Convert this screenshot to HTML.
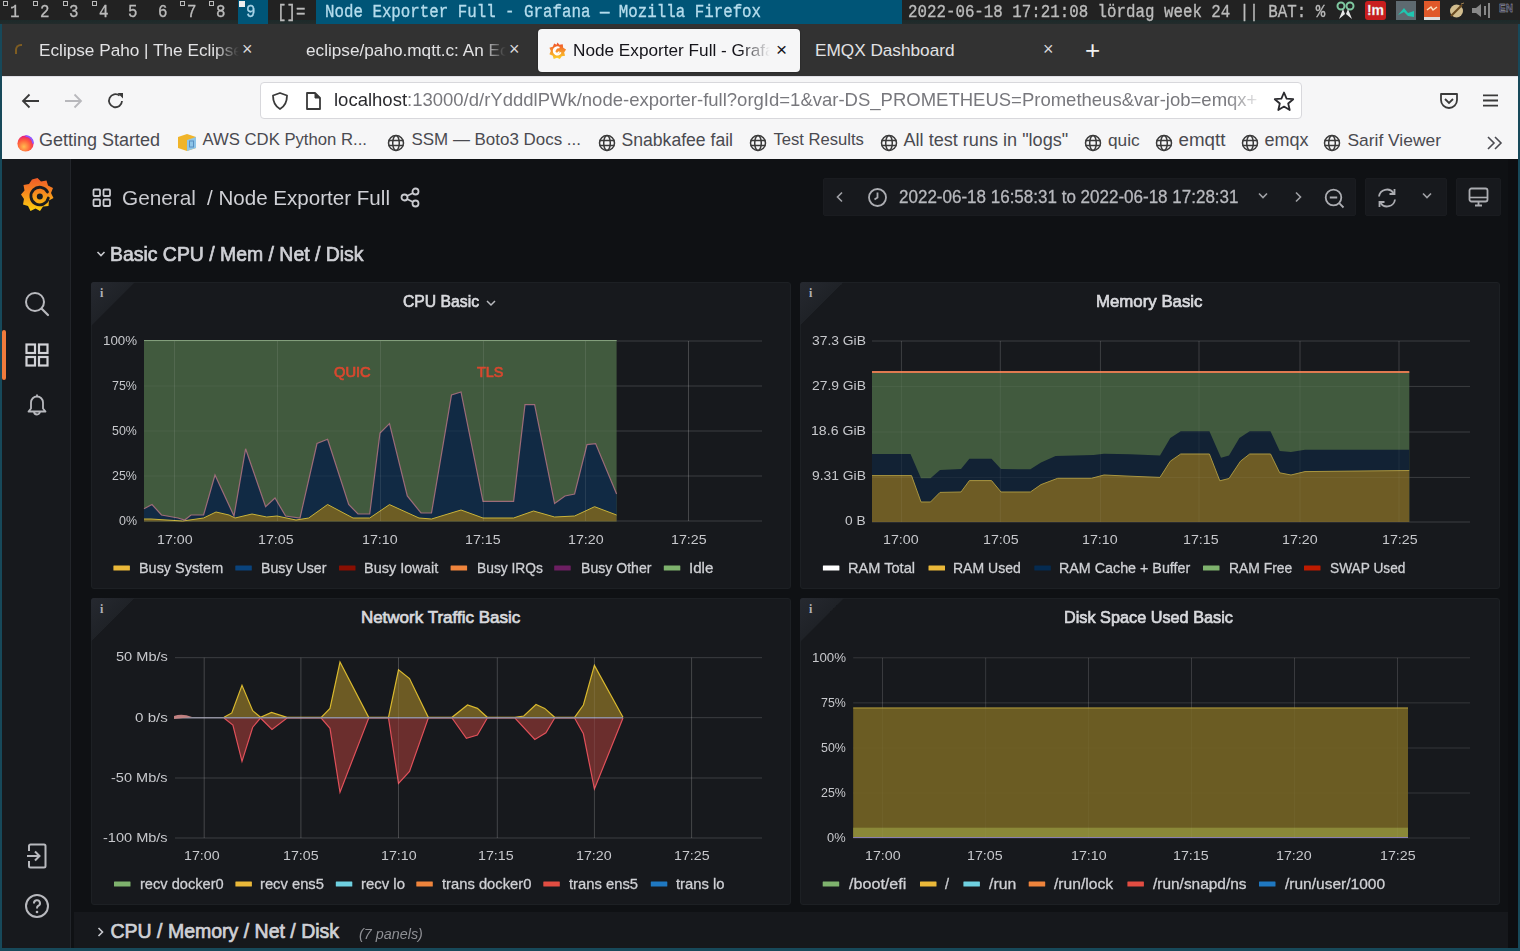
<!DOCTYPE html>
<html><head><meta charset="utf-8">
<style>
*{margin:0;padding:0;box-sizing:border-box}
html,body{width:1520px;height:951px;overflow:hidden;background:#0e1a20;font-family:"Liberation Sans",sans-serif}
.a{position:absolute;white-space:nowrap}
#bar{left:0;top:0;width:1520px;height:24px;background:#222222;font-family:"Liberation Mono",monospace;font-size:16px;color:#bbbbbb;-webkit-text-stroke:0.3px #bbbbbb}
#win{left:0;top:24px;width:1520px;height:927px;background:#17495a}
#tabs{left:2px;top:24px;width:1516px;height:52px;background:#323232}
#nav{left:2px;top:76px;width:1516px;height:83px;background:#f6f6f7;border-top:1px solid #e0e0e6}
#gf{left:2px;top:159px;width:1516px;height:789px;background:#0f1114}
.tab{color:#e2e2e4;font-size:17.2px;line-height:20px;margin-top:-1px}
.bm{color:#4a4a50;line-height:22px;margin-top:-2px}
.panel{background:#17191d;border:1px solid #1d2024;border-radius:3px}
.ptitle{color:#d8d9da;font-size:16px;font-weight:bold}
.ax{color:#c7c8ca;font-size:12px}
.lg{color:#c7c8ca;font-size:14px}
</style></head><body>

<div id="bar" class="a">
 <div class="a" style="left:0;top:20px;width:1520px;height:4px;background:linear-gradient(#1d2a2a,#232b2b)"></div>
 <div class="a" style="left:3px;top:1px;width:5px;height:5px;border:1px solid #bbb"></div><div class="a" style="left:10px;top:1px;font-size:15.8px;line-height:18px;transform:scaleY(1.22);transform-origin:0 0">1</div>
 <div class="a" style="left:33px;top:1px;width:5px;height:5px;border:1px solid #bbb"></div><div class="a" style="left:40px;top:1px;font-size:15.8px;line-height:18px;transform:scaleY(1.22);transform-origin:0 0">2</div>
 <div class="a" style="left:63px;top:1px;width:5px;height:5px;border:1px solid #bbb"></div><div class="a" style="left:69px;top:1px;font-size:15.8px;line-height:18px;transform:scaleY(1.22);transform-origin:0 0">3</div>
 <div class="a" style="left:92px;top:1px;width:5px;height:5px;border:1px solid #bbb"></div><div class="a" style="left:99px;top:1px;font-size:15.8px;line-height:18px;transform:scaleY(1.22);transform-origin:0 0">4</div>
 <div class="a" style="left:128px;top:1px;font-size:15.8px;line-height:18px;transform:scaleY(1.22);transform-origin:0 0">5</div>
 <div class="a" style="left:158px;top:1px;font-size:15.8px;line-height:18px;transform:scaleY(1.22);transform-origin:0 0">6</div>
 <div class="a" style="left:180px;top:1px;width:5px;height:5px;border:1px solid #bbb"></div><div class="a" style="left:187px;top:1px;font-size:15.8px;line-height:18px;transform:scaleY(1.22);transform-origin:0 0">7</div>
 <div class="a" style="left:209px;top:1px;width:5px;height:5px;border:1px solid #bbb"></div><div class="a" style="left:216px;top:1px;font-size:15.8px;line-height:18px;transform:scaleY(1.22);transform-origin:0 0">8</div>
 <div class="a" style="left:238px;top:0;width:30px;height:24px;background:#005577"></div>
 <div class="a" style="left:239px;top:1px;width:6px;height:6px;background:#eee"></div><div class="a" style="left:246px;top:1px;font-size:15.8px;line-height:18px;transform:scaleY(1.22);transform-origin:0 0;color:#a8d4e8;-webkit-text-stroke:0.3px #a8d4e8">9</div>
 <div class="a" style="left:277px;top:1px;font-size:15.8px;line-height:18px;transform:scaleY(1.22);transform-origin:0 0">[]=</div>
 <div class="a" style="left:316px;top:0;width:586px;height:24px;background:#005577"></div>
 <div class="a" style="left:325px;top:1px;font-size:15.8px;line-height:18px;transform:scaleY(1.22);transform-origin:0 0;color:#b4dcec;-webkit-text-stroke:0.3px #b4dcec">Node Exporter Full - Grafana — Mozilla Firefox</div>
 <div class="a" style="left:908px;top:1px;font-size:15.8px;line-height:18px;transform:scaleY(1.22);transform-origin:0 0">2022-06-18 17:21:08 lördag week 24 || BAT: %</div>
 <svg class="a" style="left:1336px;top:1px" width="20" height="19" viewBox="0 0 20 19"><circle cx="5" cy="5" r="3.5" fill="none" stroke="#7fc8a0" stroke-width="2"/><circle cx="14" cy="5" r="3.5" fill="none" stroke="#7fc8a0" stroke-width="2"/><path d="M7 8 L3 18 L9 13 Z M12 8 L16 18 L10 13 Z" fill="#e8e8e8"/></svg>
 <div class="a" style="left:1365px;top:1px;width:21px;height:19px;background:#c81e1e;border-radius:3px;color:#fff;font-weight:bold;font-size:14px;line-height:18px;text-align:center;font-family:'Liberation Sans',sans-serif">!m</div>
 <div class="a" style="left:1396px;top:1px;width:20px;height:19px;background:#5e6a70"><svg width="20" height="19"><path d="M2 14 L8 7 L12 12 L18 10 L18 16 L12 15 L8 11 Z" fill="#1fc6b0"/></svg></div>
 <div class="a" style="left:1424px;top:1px;width:16px;height:19px;background:#e0592a;border-bottom:3px solid #ddd"><svg width="16" height="16" style="position:absolute;left:0;top:0"><path d="M3 9 L7 6 L9 9 L13 6" fill="none" stroke="#f8e0c0" stroke-width="1.5"/></svg></div>
 <svg class="a" style="left:1448px;top:2px" width="17" height="17" viewBox="0 0 17 17"><circle cx="8.5" cy="9" r="6.5" fill="#d2bd8e"/><path d="M3 14 L14 3" stroke="#6a4a20" stroke-width="2.2"/><path d="M13 2 L16 1" stroke="#a08050" stroke-width="1"/></svg>
 <svg class="a" style="left:1471px;top:2px" width="20" height="17"><path d="M1 6 H5 L10 2 V15 L5 11 H1 Z" fill="#888"/><rect x="13" y="4" width="2" height="9" fill="#888"/><rect x="17" y="1" width="2" height="15" fill="#888"/></svg>
 <div class="a" style="left:1499px;top:3px;font-size:10px;color:#2c2c50;font-family:'Liberation Sans',sans-serif;font-weight:bold">EN</div>
</div>
<div id="win" class="a"></div>
<div id="tabs" class="a">
 <div class="a" style="left:13px;top:20px;width:7px;height:10px;border-left:2px solid #a0701a;border-top:2px solid #a0701a;border-radius:6px 0 0 0;opacity:.7"></div>
 <div class="a tab" style="left:37px;top:17px;width:200px;overflow:hidden;-webkit-mask-image:linear-gradient(90deg,#000 88%,transparent)">Eclipse Paho | The Eclipse Foundation</div>
 <div class="a" style="left:240px;top:15px;color:#d8d8da;font-size:18px">×</div>
 <div class="a tab" style="left:304px;top:17px;width:200px;overflow:hidden;-webkit-mask-image:linear-gradient(90deg,#000 88%,transparent)">eclipse/paho.mqtt.c: An Eclipse</div>
 <div class="a" style="left:507px;top:15px;color:#d8d8da;font-size:18px">×</div>
 <div class="a" style="left:536px;top:5px;width:262px;height:43px;background:#f6f6f7;border-radius:4px;box-shadow:0 0 2px rgba(0,0,0,.4)"></div>
 <svg class="a" style="left:546px;top:17px" width="19" height="20" viewBox="0 0 20 20"><defs><linearGradient id="gl" x1="0" y1="1" x2="0" y2="0"><stop offset="0" stop-color="#fcd228"/><stop offset="1" stop-color="#ef4b2b"/></linearGradient></defs><path d="M10 1 L12 3.5 L15.5 3 L16 6.5 L19 8.5 L17 11.5 L18 15 L14.5 15.5 L12.5 18.5 L9.5 17 L6 18.5 L5 15 L1.5 13.5 L3 10 L1.5 6.5 L5 5.5 L6.5 2 L9 3.5 Z" fill="url(#gl)"/><path d="M13.5 11.5 A4 4 0 1 1 12 6.5 A3 3 0 0 0 8 8.5 A2.2 2.2 0 1 0 11.5 10.5" fill="none" stroke="#fff" stroke-width="1.6"/></svg>
 <div class="a tab" style="left:571px;top:17px;width:197px;overflow:hidden;color:#15141a;-webkit-mask-image:linear-gradient(90deg,#000 85%,transparent)">Node Exporter Full - Grafana</div>
 <div class="a" style="left:774px;top:15px;color:#15141a;font-size:19px">×</div>
 <div class="a tab" style="left:813px;top:17px">EMQX Dashboard</div>
 <div class="a" style="left:1041px;top:15px;color:#d8d8da;font-size:18px">×</div>
 <div class="a" style="left:1083px;top:11px;color:#f0f0f0;font-size:26px;font-weight:300">+</div>
</div>

<div id="nav" class="a">
 <svg class="a" style="left:19px;top:16px" width="20" height="16" viewBox="0 0 20 16"><path d="M2 8H18M8.5 1.5L2 8L8.5 14.5" fill="none" stroke="#3a3a3a" stroke-width="1.8"/></svg>
 <svg class="a" style="left:61px;top:16px" width="20" height="16" viewBox="0 0 20 16"><path d="M2 8H18M11.5 1.5L18 8L11.5 14.5" fill="none" stroke="#b8b8bc" stroke-width="1.8"/></svg>
 <svg class="a" style="left:104px;top:14px" width="20" height="20" viewBox="0 0 20 20"><path d="M16 10A6.5 6.5 0 1 1 13.5 4.6" fill="none" stroke="#3a3a3a" stroke-width="1.8"/><path d="M11.5 2H17V7.5Z" fill="#3a3a3a"/></svg>
 <div class="a" style="left:258px;top:5px;width:1042px;height:37px;background:#fff;border:1px solid #d8d8dc;border-radius:4px"></div>
 <svg class="a" style="left:268px;top:14px" width="20" height="20" viewBox="0 0 20 20"><path d="M10 2L17 4.5C17 11 14.5 15.5 10 18C5.5 15.5 3 11 3 4.5Z" fill="none" stroke="#3a3a3a" stroke-width="1.8" stroke-linejoin="round"/></svg>
 <svg class="a" style="left:302px;top:14px" width="18" height="20" viewBox="0 0 18 20"><path d="M3 2H11L16 7V18H3Z" fill="none" stroke="#3a3a3a" stroke-width="1.8" stroke-linejoin="round"/><path d="M11 2V7H16" fill="#3a3a3a" stroke="#3a3a3a" stroke-width="1"/></svg>
 <div class="a" style="left:332px;top:12px;font-size:18.5px;line-height:22px;color:#78787d;width:930px;overflow:hidden;-webkit-mask-image:linear-gradient(90deg,#000 96%,transparent)"><span style="color:#2a2a2e">localhost</span>:13000/d/rYdddlPWk/node-exporter-full?orgId=1&amp;var-DS_PROMETHEUS=Prometheus&amp;var-job=emqx+</div>
 <svg class="a" style="left:1270px;top:13px" width="24" height="22" viewBox="0 0 24 22"><path d="M12 2.5L14.6 8.6L21.2 9.2L16.2 13.5L17.7 20L12 16.6L6.3 20L7.8 13.5L2.8 9.2L9.4 8.6Z" fill="none" stroke="#2a2a2e" stroke-width="1.8" stroke-linejoin="round"/></svg>
 <svg class="a" style="left:1436px;top:15px" width="22" height="18" viewBox="0 0 22 18"><path d="M3 2H19V8A8 8 0 0 1 3 8Z" fill="none" stroke="#3a3a3a" stroke-width="1.8" stroke-linejoin="round"/><path d="M7 7L11 11L15 7" fill="none" stroke="#3a3a3a" stroke-width="1.8"/></svg>
 <svg class="a" style="left:1480px;top:16px" width="18" height="16"><path d="M1 2.3H16M1 7.5H16M1 12.6H16" stroke="#3a3a3a" stroke-width="1.8"/></svg>
 <svg class="a" style="left:14px;top:57px" width="19" height="19" viewBox="0 0 20 20"><defs><radialGradient id="ff" cx="0.4" cy="0.7" r="0.7"><stop offset="0" stop-color="#ffbd4f"/><stop offset="0.6" stop-color="#ff5a3a"/><stop offset="1" stop-color="#e31587"/></radialGradient></defs><circle cx="10" cy="10" r="8.5" fill="url(#ff)"/><path d="M10 2A8 8 0 0 1 18 10" fill="none" stroke="#9059ff" stroke-width="2"/></svg>
 <div class="a bm" style="left:37px;top:54px;font-size:18px">Getting Started</div>
 <svg class="a" style="left:174px;top:55px" width="22" height="20" viewBox="0 0 22 20"><path d="M2 5L11 2L20 5V16L11 19L2 16Z" fill="#f0b429"/><path d="M11 8L20 5V16L11 19Z" fill="#8ec5e8"/><rect x="13.5" y="9" width="4" height="6" fill="none" stroke="#5a8fc0" stroke-width="1"/></svg>
 <div class="a bm" style="left:200.5px;top:54px;font-size:16.7px">AWS CDK Python R...</div>
 <svg class="a" style="left:1484px;top:58px" width="20" height="16" viewBox="0 0 20 16"><path d="M2 2 L8 8 L2 14 M9 2 L15 8 L9 14" fill="none" stroke="#4a4a50" stroke-width="1.6"/></svg>
<svg class="a" style="left:385px;top:57px" width="18" height="18" viewBox="0 0 18 18"><g fill="none" stroke="#3a3a3a" stroke-width="1.5"><circle cx="9" cy="9" r="7.5"/><ellipse cx="9" cy="9" rx="3.3" ry="7.5"/><path d="M1.5 6.5H16.5M1.5 11.5H16.5"/></g></svg>
<div class="a bm" style="top:54px;left:409.5px;font-size:16.94px">SSM — Boto3 Docs ...</div>
<svg class="a" style="left:596px;top:57px" width="18" height="18" viewBox="0 0 18 18"><g fill="none" stroke="#3a3a3a" stroke-width="1.5"><circle cx="9" cy="9" r="7.5"/><ellipse cx="9" cy="9" rx="3.3" ry="7.5"/><path d="M1.5 6.5H16.5M1.5 11.5H16.5"/></g></svg>
<div class="a bm" style="top:54px;left:619.5px;font-size:17.6px">Snabkafee fail</div>
<svg class="a" style="left:747px;top:57px" width="18" height="18" viewBox="0 0 18 18"><g fill="none" stroke="#3a3a3a" stroke-width="1.5"><circle cx="9" cy="9" r="7.5"/><ellipse cx="9" cy="9" rx="3.3" ry="7.5"/><path d="M1.5 6.5H16.5M1.5 11.5H16.5"/></g></svg>
<div class="a bm" style="top:54px;left:771.5px;font-size:16.6px">Test Results</div>
<svg class="a" style="left:878px;top:57px" width="18" height="18" viewBox="0 0 18 18"><g fill="none" stroke="#3a3a3a" stroke-width="1.5"><circle cx="9" cy="9" r="7.5"/><ellipse cx="9" cy="9" rx="3.3" ry="7.5"/><path d="M1.5 6.5H16.5M1.5 11.5H16.5"/></g></svg>
<div class="a bm" style="top:54px;left:901.5px;font-size:18.1px">All test runs in &quot;logs&quot;</div>
<svg class="a" style="left:1082px;top:57px" width="18" height="18" viewBox="0 0 18 18"><g fill="none" stroke="#3a3a3a" stroke-width="1.5"><circle cx="9" cy="9" r="7.5"/><ellipse cx="9" cy="9" rx="3.3" ry="7.5"/><path d="M1.5 6.5H16.5M1.5 11.5H16.5"/></g></svg>
<div class="a bm" style="top:54px;left:1106.0px;font-size:17.3px">quic</div>
<svg class="a" style="left:1153px;top:57px" width="18" height="18" viewBox="0 0 18 18"><g fill="none" stroke="#3a3a3a" stroke-width="1.5"><circle cx="9" cy="9" r="7.5"/><ellipse cx="9" cy="9" rx="3.3" ry="7.5"/><path d="M1.5 6.5H16.5M1.5 11.5H16.5"/></g></svg>
<div class="a bm" style="top:54px;left:1176.5px;font-size:18.75px">emqtt</div>
<svg class="a" style="left:1239px;top:57px" width="18" height="18" viewBox="0 0 18 18"><g fill="none" stroke="#3a3a3a" stroke-width="1.5"><circle cx="9" cy="9" r="7.5"/><ellipse cx="9" cy="9" rx="3.3" ry="7.5"/><path d="M1.5 6.5H16.5M1.5 11.5H16.5"/></g></svg>
<div class="a bm" style="top:54px;left:1262.5px;font-size:18px">emqx</div>
<svg class="a" style="left:1321px;top:57px" width="18" height="18" viewBox="0 0 18 18"><g fill="none" stroke="#3a3a3a" stroke-width="1.5"><circle cx="9" cy="9" r="7.5"/><ellipse cx="9" cy="9" rx="3.3" ry="7.5"/><path d="M1.5 6.5H16.5M1.5 11.5H16.5"/></g></svg>
<div class="a bm" style="top:54px;left:1345.5px;font-size:17.4px">Sarif Viewer</div>
</div>

<div id="gf" class="a"></div>
<div class="a" style="left:2px;top:159px;width:69px;height:789px;background:#17191d;border-right:1px solid #22252a"></div>
<div class="a" style="left:1508px;top:159px;width:10px;height:789px;background:#0d0e11"></div>
<svg class="a" style="left:20px;top:177px" width="35" height="36" viewBox="0 0 35 36"><defs><linearGradient id="glogo" x1="0" y1="1" x2="0" y2="0"><stop offset="0" stop-color="#fcd10d"/><stop offset="0.55" stop-color="#f68a1f"/><stop offset="1" stop-color="#f05a28"/></linearGradient></defs>
<path d="M17.5 1 L21 4.5 L26.5 3.5 L28 8.5 L33 11 L31 16 L33.5 21 L29 23.5 L28.5 29 L23 29.5 L20 34 L15.5 31.5 L10.5 34 L8 29 L3 27.5 L4 22 L1 17.5 L4.5 13.5 L3.5 8 L9 7 L12 2.5 Z" fill="url(#glogo)"/>
<path d="M27.5 15 A8.8 8.8 0 1 0 28.3 21" fill="none" stroke="#1a1c20" stroke-width="2.8" stroke-linecap="round"/><path d="M28.3 21 A5.5 5.5 0 1 1 25 14" fill="none" stroke="#1a1c20" stroke-width="0"/><circle cx="19.8" cy="19.4" r="3" fill="#1a1c20"/></svg>
<svg class="a" style="left:24px;top:291px" width="26" height="27" viewBox="0 0 26 27"><circle cx="11" cy="11" r="9" fill="none" stroke="#b8b9be" stroke-width="2"/><path d="M17.5 17.5L24 24" stroke="#b8b9be" stroke-width="2.2" stroke-linecap="round"/></svg>
<svg class="a" style="left:25px;top:343px" width="25" height="25" viewBox="0 0 25 25"><g fill="none" stroke="#d2d3d8" stroke-width="2.2"><rect x="1.5" y="1.5" width="8.5" height="8.5"/><rect x="14" y="1.5" width="8.5" height="8.5"/><rect x="1.5" y="14" width="8.5" height="8.5"/><rect x="14" y="14" width="8.5" height="8.5"/></g></svg>
<div class="a" style="left:2px;top:330px;width:4px;height:50px;background:#ef7b3c;border-radius:2px"></div>
<svg class="a" style="left:26px;top:393px" width="22" height="25" viewBox="0 0 22 25"><path d="M11 3.5 A6 6 0 0 1 17 9.5 V15.5 L19.5 18.5 H2.5 L5 15.5 V9.5 A6 6 0 0 1 11 3.5 Z M11 1.5 V3.5 M8 18.5 A3 3 0 0 0 14 18.5" fill="none" stroke="#b8b9be" stroke-width="1.8" stroke-linejoin="round"/></svg>
<svg class="a" style="left:26px;top:843px" width="22" height="26" viewBox="0 0 22 26"><path d="M3 8 V3 A1.5 1.5 0 0 1 4.5 1.5 H18 A1.5 1.5 0 0 1 19.5 3 V23 A1.5 1.5 0 0 1 18 24.5 H4.5 A1.5 1.5 0 0 1 3 23 V18" fill="none" stroke="#b8b9be" stroke-width="2"/><path d="M1 13 H13 M9 8.5 L13.5 13 L9 17.5" fill="none" stroke="#b8b9be" stroke-width="2"/></svg>
<svg class="a" style="left:24px;top:893px" width="26" height="26" viewBox="0 0 26 26"><circle cx="13" cy="13" r="11" fill="none" stroke="#b8b9be" stroke-width="2"/><path d="M10 10.5 A3 3 0 1 1 14 13 Q13 13.5 13 15.5" fill="none" stroke="#b8b9be" stroke-width="2"/><circle cx="13" cy="19" r="1.3" fill="#b8b9be"/></svg>
<svg class="a" style="left:92px;top:188px" width="20" height="20" viewBox="0 0 20 20"><g fill="none" stroke="#c9cacf" stroke-width="1.8"><rect x="1.5" y="1.5" width="6.5" height="6.5" rx="1"/><rect x="11.5" y="1.5" width="6.5" height="6.5" rx="1"/><rect x="1.5" y="11.5" width="6.5" height="6.5" rx="1"/><rect x="11.5" y="11.5" width="6.5" height="6.5" rx="1"/></g></svg>
<svg class="a" style="left:400px;top:187px" width="21" height="21" viewBox="0 0 21 21"><g fill="none" stroke="#c9cacf" stroke-width="1.8"><circle cx="15.5" cy="4.5" r="3"/><circle cx="4.5" cy="10.5" r="3"/><circle cx="15.5" cy="16.5" r="3"/><path d="M7 9 L13 6 M7 12 L13 15"/></g></svg>
<svg class="a" style="left:96px;top:250px" width="10" height="8" viewBox="0 0 10 8"><path d="M1.5 2 L5 5.5 L8.5 2" fill="none" stroke="#c9cacf" stroke-width="1.6"/></svg>
<!-- time picker -->
<div class="a" style="left:823px;top:178px;width:533px;height:38px;background:#17191d;border:1px solid #1a1c20;border-radius:2px"></div>
<div class="a" style="left:1365px;top:178px;width:82px;height:38px;background:#17191d;border:1px solid #1a1c20;border-radius:2px"></div>
<div class="a" style="left:1456px;top:178px;width:45px;height:38px;background:#17191d;border:1px solid #1a1c20;border-radius:2px"></div>
<svg class="a" style="left:834px;top:191px" width="12" height="12" viewBox="0 0 12 12"><path d="M8 1.5 L3.5 6 L8 10.5" fill="none" stroke="#a0a1a6" stroke-width="1.6"/></svg>
<svg class="a" style="left:867px;top:187px" width="21" height="21" viewBox="0 0 21 21"><circle cx="10.5" cy="10.5" r="8.5" fill="none" stroke="#acadb2" stroke-width="1.8"/><path d="M10.5 5.5 V10.5 L7.5 12.5" fill="none" stroke="#acadb2" stroke-width="1.8"/></svg>
<svg class="a" style="left:1257px;top:191px" width="12" height="10" viewBox="0 0 12 10"><path d="M2 2.5 L6 6.5 L10 2.5" fill="none" stroke="#a0a1a6" stroke-width="1.6"/></svg>
<svg class="a" style="left:1292px;top:191px" width="12" height="12" viewBox="0 0 12 12"><path d="M4 1.5 L8.5 6 L4 10.5" fill="none" stroke="#a0a1a6" stroke-width="1.6"/></svg>
<svg class="a" style="left:1324px;top:188px" width="22" height="21" viewBox="0 0 22 21"><circle cx="9.5" cy="9.5" r="7.8" fill="none" stroke="#acadb2" stroke-width="1.8"/><path d="M15.2 15.2 L19.5 19.5 M5.8 9.5 H13.2" fill="none" stroke="#acadb2" stroke-width="1.8"/></svg>
<svg class="a" style="left:1376px;top:187px" width="22" height="22" viewBox="0 0 22 22"><path d="M3 9.5 A8 8 0 0 1 17.5 6 M19 12.5 A8 8 0 0 1 4.5 16" fill="none" stroke="#acadb2" stroke-width="1.8"/><path d="M18.5 2 V7 H13.5 M3.5 20 V15 H8.5" fill="none" stroke="#acadb2" stroke-width="1.8"/></svg>
<svg class="a" style="left:1421px;top:191px" width="12" height="10" viewBox="0 0 12 10"><path d="M2 2.5 L6 6.5 L10 2.5" fill="none" stroke="#a0a1a6" stroke-width="1.6"/></svg>
<svg class="a" style="left:1468px;top:187px" width="21" height="20" viewBox="0 0 21 20"><rect x="1.5" y="1.5" width="18" height="13" rx="2" fill="none" stroke="#acadb2" stroke-width="1.8"/><path d="M2 10.5 H19" stroke="#acadb2" stroke-width="1.6"/><path d="M7 18.5 H14 M10.5 14.5 V18.5" stroke="#acadb2" stroke-width="1.8"/></svg>
<!-- panels -->
<div class="a panel" style="left:91px;top:282px;width:700px;height:307px"></div>
<div class="a panel" style="left:800px;top:282px;width:700px;height:307px"></div>
<div class="a panel" style="left:91px;top:598px;width:700px;height:307px"></div>
<div class="a panel" style="left:800px;top:598px;width:700px;height:307px"></div>
<div class="a" style="left:74px;top:912px;width:1434px;height:36px;background:#16181c"></div>
<svg class="a" style="left:91px;top:282px" width="44" height="44"><defs><linearGradient id="cg91282" x1="0" y1="0" x2="1" y2="1"><stop offset="0" stop-color="#262930"/><stop offset="0.5" stop-color="#1f2227"/><stop offset="0.5" stop-color="#17191d" stop-opacity="0"/></linearGradient></defs><path d="M3 0 H44 L0 44 V3 A3 3 0 0 1 3 0Z" fill="url(#cg91282)"/></svg><div class="a" style="left:100px;top:287px;font-size:12px;line-height:12px;color:#b0b1b6;font-family:'Liberation Serif',serif;font-weight:bold">i</div><svg class="a" style="left:800px;top:282px" width="44" height="44"><defs><linearGradient id="cg800282" x1="0" y1="0" x2="1" y2="1"><stop offset="0" stop-color="#262930"/><stop offset="0.5" stop-color="#1f2227"/><stop offset="0.5" stop-color="#17191d" stop-opacity="0"/></linearGradient></defs><path d="M3 0 H44 L0 44 V3 A3 3 0 0 1 3 0Z" fill="url(#cg800282)"/></svg><div class="a" style="left:809px;top:287px;font-size:12px;line-height:12px;color:#b0b1b6;font-family:'Liberation Serif',serif;font-weight:bold">i</div><svg class="a" style="left:91px;top:598px" width="44" height="44"><defs><linearGradient id="cg91598" x1="0" y1="0" x2="1" y2="1"><stop offset="0" stop-color="#262930"/><stop offset="0.5" stop-color="#1f2227"/><stop offset="0.5" stop-color="#17191d" stop-opacity="0"/></linearGradient></defs><path d="M3 0 H44 L0 44 V3 A3 3 0 0 1 3 0Z" fill="url(#cg91598)"/></svg><div class="a" style="left:100px;top:603px;font-size:12px;line-height:12px;color:#b0b1b6;font-family:'Liberation Serif',serif;font-weight:bold">i</div><svg class="a" style="left:800px;top:598px" width="44" height="44"><defs><linearGradient id="cg800598" x1="0" y1="0" x2="1" y2="1"><stop offset="0" stop-color="#262930"/><stop offset="0.5" stop-color="#1f2227"/><stop offset="0.5" stop-color="#17191d" stop-opacity="0"/></linearGradient></defs><path d="M3 0 H44 L0 44 V3 A3 3 0 0 1 3 0Z" fill="url(#cg800598)"/></svg><div class="a" style="left:809px;top:603px;font-size:12px;line-height:12px;color:#b0b1b6;font-family:'Liberation Serif',serif;font-weight:bold">i</div><svg class="a" style="left:0;top:0" width="1520" height="951" viewBox="0 0 1520 951"><line x1="144" y1="341" x2="762" y2="341" stroke="rgba(255,255,255,0.12)" stroke-width="1"/>
<line x1="144" y1="386" x2="762" y2="386" stroke="rgba(255,255,255,0.12)" stroke-width="1"/>
<line x1="144" y1="431" x2="762" y2="431" stroke="rgba(255,255,255,0.12)" stroke-width="1"/>
<line x1="144" y1="476" x2="762" y2="476" stroke="rgba(255,255,255,0.12)" stroke-width="1"/>
<line x1="144" y1="521" x2="762" y2="521" stroke="rgba(255,255,255,0.12)" stroke-width="1"/>
<line x1="174.5" y1="341" x2="174.5" y2="521" stroke="rgba(255,255,255,0.12)" stroke-width="1"/>
<line x1="277.5" y1="341" x2="277.5" y2="521" stroke="rgba(255,255,255,0.12)" stroke-width="1"/>
<line x1="380.5" y1="341" x2="380.5" y2="521" stroke="rgba(255,255,255,0.12)" stroke-width="1"/>
<line x1="483.5" y1="341" x2="483.5" y2="521" stroke="rgba(255,255,255,0.12)" stroke-width="1"/>
<line x1="585.5" y1="341" x2="585.5" y2="521" stroke="rgba(255,255,255,0.12)" stroke-width="1"/>
<line x1="688.5" y1="341" x2="688.5" y2="521" stroke="rgba(255,255,255,0.12)" stroke-width="1"/>
<rect x="144" y="340" width="472.6" height="181.5" fill="#415a3e"/>
<path d="M144.0 508.7 L152.0 504.5 L161.5 515.0 L178.0 518.0 L184.7 520.0 L191.0 515.0 L203.6 515.0 L215.0 475.0 L234.0 516.0 L245.6 448.8 L265.6 506.6 L275.0 498.0 L285.6 516.0 L300.0 518.0 L317.0 443.5 L327.6 439.3 L348.7 504.5 L358.0 514.0 L369.7 514.0 L380.0 433.0 L389.5 423.6 L407.3 496.0 L421.0 513.0 L431.5 513.0 L451.5 395.0 L461.0 392.0 L483.0 501.4 L513.6 501.4 L525.0 404.7 L534.6 404.7 L554.6 503.5 L565.0 496.0 L574.6 494.0 L587.0 444.6 L595.6 443.6 L616.6 494.0 L616.6 521.5 L144.0 521.5 Z" fill="#112a44"/>
<path d="M144.0 519.0 L151.0 519.0 L182.6 521.0 L203.6 518.0 L216.0 512.0 L229.0 515.0 L235.0 518.0 L252.0 514.0 L266.7 517.0 L277.0 516.0 L296.0 520.0 L308.7 518.0 L327.6 504.5 L353.0 518.0 L369.7 518.0 L389.5 504.6 L419.0 518.0 L431.5 519.0 L461.0 510.0 L483.0 518.0 L513.6 518.0 L533.5 511.0 L554.6 517.0 L574.6 516.0 L594.6 506.7 L616.6 515.0 L616.6 521.5 L144.0 521.5 Z" fill="#6d5d24"/>
<path d="M144.0 519.0 L151.0 519.0 L182.6 521.0 L203.6 518.0 L216.0 512.0 L229.0 515.0 L235.0 518.0 L252.0 514.0 L266.7 517.0 L277.0 516.0 L296.0 520.0 L308.7 518.0 L327.6 504.5 L353.0 518.0 L369.7 518.0 L389.5 504.6 L419.0 518.0 L431.5 519.0 L461.0 510.0 L483.0 518.0 L513.6 518.0 L533.5 511.0 L554.6 517.0 L574.6 516.0 L594.6 506.7 L616.6 515.0" fill="none" stroke="#c9b33a" stroke-width="1"/>
<path d="M144.0 508.7 L152.0 504.5 L161.5 515.0 L178.0 518.0 L184.7 520.0 L191.0 515.0 L203.6 515.0 L215.0 475.0 L234.0 516.0 L245.6 448.8 L265.6 506.6 L275.0 498.0 L285.6 516.0 L300.0 518.0 L317.0 443.5 L327.6 439.3 L348.7 504.5 L358.0 514.0 L369.7 514.0 L380.0 433.0 L389.5 423.6 L407.3 496.0 L421.0 513.0 L431.5 513.0 L451.5 395.0 L461.0 392.0 L483.0 501.4 L513.6 501.4 L525.0 404.7 L534.6 404.7 L554.6 503.5 L565.0 496.0 L574.6 494.0 L587.0 444.6 L595.6 443.6 L616.6 494.0" fill="none" stroke="#a8707e" stroke-width="1.2" stroke-opacity="0.9"/>
<line x1="144" y1="340.5" x2="616.6" y2="340.5" stroke="#7f9c78" stroke-width="1"/>
<line x1="872" y1="341" x2="1470" y2="341" stroke="rgba(255,255,255,0.12)" stroke-width="1"/>
<line x1="872" y1="386.4" x2="1470" y2="386.4" stroke="rgba(255,255,255,0.12)" stroke-width="1"/>
<line x1="872" y1="432" x2="1470" y2="432" stroke="rgba(255,255,255,0.12)" stroke-width="1"/>
<line x1="872" y1="477.4" x2="1470" y2="477.4" stroke="rgba(255,255,255,0.12)" stroke-width="1"/>
<line x1="872" y1="522" x2="1470" y2="522" stroke="rgba(255,255,255,0.12)" stroke-width="1"/>
<line x1="901.4" y1="341" x2="901.4" y2="522" stroke="rgba(255,255,255,0.12)" stroke-width="1"/>
<line x1="1000.3" y1="341" x2="1000.3" y2="522" stroke="rgba(255,255,255,0.12)" stroke-width="1"/>
<line x1="1100.4" y1="341" x2="1100.4" y2="522" stroke="rgba(255,255,255,0.12)" stroke-width="1"/>
<line x1="1199" y1="341" x2="1199" y2="522" stroke="rgba(255,255,255,0.12)" stroke-width="1"/>
<line x1="1300" y1="341" x2="1300" y2="522" stroke="rgba(255,255,255,0.12)" stroke-width="1"/>
<line x1="1399" y1="341" x2="1399" y2="522" stroke="rgba(255,255,255,0.12)" stroke-width="1"/>
<rect x="872" y="372" width="537.3" height="150" fill="#415a3e"/>
<path d="M872.0 454.0 L910.5 454.0 L921.0 478.3 L930.5 478.3 L940.0 470.0 L961.0 469.0 L969.4 458.7 L991.5 458.7 L1001.0 469.0 L1030.4 469.3 L1041.0 462.5 L1055.6 456.0 L1093.5 455.0 L1104.0 453.7 L1130.0 454.3 L1160.0 455.5 L1170.3 438.0 L1180.7 431.3 L1209.4 431.3 L1221.0 457.8 L1229.0 455.5 L1239.4 438.0 L1249.7 431.3 L1270.5 431.3 L1279.7 451.0 L1291.0 452.0 L1305.0 449.7 L1409.3 449.7 L1409.3 522.0 L872.0 522.0 Z" fill="#122234"/>
<path d="M872.0 475.6 L911.5 475.6 L921.0 502.0 L930.5 502.0 L940.0 492.4 L961.0 492.0 L969.4 480.6 L991.5 480.6 L1001.0 492.0 L1030.4 492.0 L1041.0 484.6 L1057.7 478.3 L1091.4 478.3 L1104.0 475.0 L1130.0 476.2 L1160.0 477.4 L1170.3 461.2 L1180.7 454.0 L1209.4 454.0 L1219.8 480.8 L1229.0 478.5 L1240.5 461.2 L1249.7 454.0 L1270.5 454.0 L1279.7 472.8 L1291.0 475.0 L1305.0 471.6 L1409.3 470.5 L1409.3 522.0 L872.0 522.0 Z" fill="#6e5c25"/>
<path d="M872.0 475.6 L911.5 475.6 L921.0 502.0 L930.5 502.0 L940.0 492.4 L961.0 492.0 L969.4 480.6 L991.5 480.6 L1001.0 492.0 L1030.4 492.0 L1041.0 484.6 L1057.7 478.3 L1091.4 478.3 L1104.0 475.0 L1130.0 476.2 L1160.0 477.4 L1170.3 461.2 L1180.7 454.0 L1209.4 454.0 L1219.8 480.8 L1229.0 478.5 L1240.5 461.2 L1249.7 454.0 L1270.5 454.0 L1279.7 472.8 L1291.0 475.0 L1305.0 471.6 L1409.3 470.5" fill="none" stroke="#a89540" stroke-width="1"/>
<line x1="872" y1="372" x2="1409.3" y2="372" stroke="#e07a50" stroke-width="2"/>
<line x1="175" y1="657.7" x2="762" y2="657.7" stroke="rgba(255,255,255,0.12)" stroke-width="1"/>
<line x1="175" y1="717.7" x2="762" y2="717.7" stroke="rgba(255,255,255,0.12)" stroke-width="1"/>
<line x1="175" y1="778" x2="762" y2="778" stroke="rgba(255,255,255,0.12)" stroke-width="1"/>
<line x1="175" y1="838" x2="762" y2="838" stroke="rgba(255,255,255,0.12)" stroke-width="1"/>
<line x1="204.2" y1="657.7" x2="204.2" y2="838" stroke="rgba(255,255,255,0.12)" stroke-width="1"/>
<line x1="300.9" y1="657.7" x2="300.9" y2="838" stroke="rgba(255,255,255,0.12)" stroke-width="1"/>
<line x1="398.5" y1="657.7" x2="398.5" y2="838" stroke="rgba(255,255,255,0.12)" stroke-width="1"/>
<line x1="497.3" y1="657.7" x2="497.3" y2="838" stroke="rgba(255,255,255,0.12)" stroke-width="1"/>
<line x1="594.4" y1="657.7" x2="594.4" y2="838" stroke="rgba(255,255,255,0.12)" stroke-width="1"/>
<line x1="691.6" y1="657.7" x2="691.6" y2="838" stroke="rgba(255,255,255,0.12)" stroke-width="1"/>
<path d="M224.0 717.3 L231.8 712.9 L242.0 685.3 L252.7 710.7 L260.5 717.3 L271.5 712.4 L287.0 717.3 L321.2 717.3 L330.0 708.4 L340.0 662.0 L368.7 717.3 L388.5 717.3 L398.5 669.8 L409.5 678.6 L428.3 717.3 L452.0 717.3 L467.5 705.0 L477.4 708.4 L487.3 717.3 L515.0 717.3 L523.8 716.0 L536.0 704.5 L544.7 708.4 L554.7 717.3 L574.6 717.3 L583.4 705.0 L594.4 665.4 L623.0 717.3 L623.0 717.7 L224.0 717.7 Z" fill="#6d5b24"/>
<path d="M224.0 718.0 L232.9 725.0 L242.0 761.4 L252.7 727.2 L260.5 718.0 L272.0 729.4 L287.0 718.0 L321.2 718.0 L330.0 728.3 L340.0 792.3 L368.7 718.0 L388.5 718.0 L398.5 783.5 L409.5 771.4 L428.3 718.0 L452.0 718.0 L466.4 738.3 L477.4 735.0 L487.3 718.0 L515.0 718.0 L534.8 739.4 L545.9 732.7 L554.7 718.0 L574.6 718.0 L583.4 733.8 L594.4 789.0 L623.0 718.0 L623.0 717.7 L224.0 717.7 Z" fill="#6b2e2d"/>
<path d="M224.0 717.3 L231.8 712.9 L242.0 685.3 L252.7 710.7 L260.5 717.3 L271.5 712.4 L287.0 717.3 L321.2 717.3 L330.0 708.4 L340.0 662.0 L368.7 717.3 L388.5 717.3 L398.5 669.8 L409.5 678.6 L428.3 717.3 L452.0 717.3 L467.5 705.0 L477.4 708.4 L487.3 717.3 L515.0 717.3 L523.8 716.0 L536.0 704.5 L544.7 708.4 L554.7 717.3 L574.6 717.3 L583.4 705.0 L594.4 665.4 L623.0 717.3" fill="none" stroke="#d9b92e" stroke-width="1.2"/>
<path d="M224.0 718.0 L232.9 725.0 L242.0 761.4 L252.7 727.2 L260.5 718.0 L272.0 729.4 L287.0 718.0 L321.2 718.0 L330.0 728.3 L340.0 792.3 L368.7 718.0 L388.5 718.0 L398.5 783.5 L409.5 771.4 L428.3 718.0 L452.0 718.0 L466.4 738.3 L477.4 735.0 L487.3 718.0 L515.0 718.0 L534.8 739.4 L545.9 732.7 L554.7 718.0 L574.6 718.0 L583.4 733.8 L594.4 789.0 L623.0 718.0" fill="none" stroke="#e0505a" stroke-width="1.2"/>
<line x1="175" y1="717.7" x2="623" y2="717.7" stroke="#8c8c9c" stroke-width="1.6"/>
<path d="M174 716 Q182 713 192 717 L174 719 Z" fill="#c08080"/>
<line x1="853.2" y1="657.8" x2="1470" y2="657.8" stroke="rgba(255,255,255,0.12)" stroke-width="1"/>
<line x1="853.2" y1="702.9" x2="1470" y2="702.9" stroke="rgba(255,255,255,0.12)" stroke-width="1"/>
<line x1="853.2" y1="748" x2="1470" y2="748" stroke="rgba(255,255,255,0.12)" stroke-width="1"/>
<line x1="853.2" y1="793" x2="1470" y2="793" stroke="rgba(255,255,255,0.12)" stroke-width="1"/>
<line x1="853.2" y1="838" x2="1470" y2="838" stroke="rgba(255,255,255,0.12)" stroke-width="1"/>
<line x1="882.5" y1="657.8" x2="882.5" y2="838" stroke="rgba(255,255,255,0.12)" stroke-width="1"/>
<line x1="985.7" y1="657.8" x2="985.7" y2="838" stroke="rgba(255,255,255,0.12)" stroke-width="1"/>
<line x1="1088.5" y1="657.8" x2="1088.5" y2="838" stroke="rgba(255,255,255,0.12)" stroke-width="1"/>
<line x1="1191.5" y1="657.8" x2="1191.5" y2="838" stroke="rgba(255,255,255,0.12)" stroke-width="1"/>
<line x1="1294.5" y1="657.8" x2="1294.5" y2="838" stroke="rgba(255,255,255,0.12)" stroke-width="1"/>
<line x1="1397.5" y1="657.8" x2="1397.5" y2="838" stroke="rgba(255,255,255,0.12)" stroke-width="1"/>
<rect x="853.2" y="707.7" width="554.8" height="130.3" fill="#6b5c23"/>
<line x1="853.2" y1="708" x2="1408" y2="708" stroke="#b09a3a" stroke-width="1.2"/>
<rect x="853.2" y="827.7" width="554.8" height="10.3" fill="#8a8838"/>
<line x1="853.2" y1="837.5" x2="1408" y2="837.5" stroke="#8a7fb0" stroke-width="1.2"/>
<line x1="144" y1="341" x2="762" y2="341" stroke="rgba(255,255,255,0.05)" stroke-width="1"/>
<line x1="144" y1="386" x2="762" y2="386" stroke="rgba(255,255,255,0.05)" stroke-width="1"/>
<line x1="144" y1="431" x2="762" y2="431" stroke="rgba(255,255,255,0.05)" stroke-width="1"/>
<line x1="144" y1="476" x2="762" y2="476" stroke="rgba(255,255,255,0.05)" stroke-width="1"/>
<line x1="144" y1="521" x2="762" y2="521" stroke="rgba(255,255,255,0.05)" stroke-width="1"/>
<line x1="174.5" y1="341" x2="174.5" y2="521" stroke="rgba(255,255,255,0.09)" stroke-width="1"/>
<line x1="277.5" y1="341" x2="277.5" y2="521" stroke="rgba(255,255,255,0.09)" stroke-width="1"/>
<line x1="380.5" y1="341" x2="380.5" y2="521" stroke="rgba(255,255,255,0.09)" stroke-width="1"/>
<line x1="483.5" y1="341" x2="483.5" y2="521" stroke="rgba(255,255,255,0.09)" stroke-width="1"/>
<line x1="585.5" y1="341" x2="585.5" y2="521" stroke="rgba(255,255,255,0.09)" stroke-width="1"/>
<line x1="688.5" y1="341" x2="688.5" y2="521" stroke="rgba(255,255,255,0.09)" stroke-width="1"/>
<line x1="872" y1="341" x2="1470" y2="341" stroke="rgba(255,255,255,0.05)" stroke-width="1"/>
<line x1="872" y1="386.4" x2="1470" y2="386.4" stroke="rgba(255,255,255,0.05)" stroke-width="1"/>
<line x1="872" y1="432" x2="1470" y2="432" stroke="rgba(255,255,255,0.05)" stroke-width="1"/>
<line x1="872" y1="477.4" x2="1470" y2="477.4" stroke="rgba(255,255,255,0.05)" stroke-width="1"/>
<line x1="872" y1="522" x2="1470" y2="522" stroke="rgba(255,255,255,0.05)" stroke-width="1"/>
<line x1="901.4" y1="341" x2="901.4" y2="522" stroke="rgba(255,255,255,0.06)" stroke-width="1"/>
<line x1="1000.3" y1="341" x2="1000.3" y2="522" stroke="rgba(255,255,255,0.06)" stroke-width="1"/>
<line x1="1100.4" y1="341" x2="1100.4" y2="522" stroke="rgba(255,255,255,0.06)" stroke-width="1"/>
<line x1="1199" y1="341" x2="1199" y2="522" stroke="rgba(255,255,255,0.06)" stroke-width="1"/>
<line x1="1300" y1="341" x2="1300" y2="522" stroke="rgba(255,255,255,0.06)" stroke-width="1"/>
<line x1="1399" y1="341" x2="1399" y2="522" stroke="rgba(255,255,255,0.06)" stroke-width="1"/>
<line x1="175" y1="657.7" x2="762" y2="657.7" stroke="rgba(255,255,255,0.05)" stroke-width="1"/>
<line x1="175" y1="717.7" x2="762" y2="717.7" stroke="rgba(255,255,255,0.05)" stroke-width="1"/>
<line x1="175" y1="778" x2="762" y2="778" stroke="rgba(255,255,255,0.05)" stroke-width="1"/>
<line x1="175" y1="838" x2="762" y2="838" stroke="rgba(255,255,255,0.05)" stroke-width="1"/>
<line x1="204.2" y1="657.7" x2="204.2" y2="838" stroke="rgba(255,255,255,0.09)" stroke-width="1"/>
<line x1="300.9" y1="657.7" x2="300.9" y2="838" stroke="rgba(255,255,255,0.09)" stroke-width="1"/>
<line x1="398.5" y1="657.7" x2="398.5" y2="838" stroke="rgba(255,255,255,0.09)" stroke-width="1"/>
<line x1="497.3" y1="657.7" x2="497.3" y2="838" stroke="rgba(255,255,255,0.09)" stroke-width="1"/>
<line x1="594.4" y1="657.7" x2="594.4" y2="838" stroke="rgba(255,255,255,0.09)" stroke-width="1"/>
<line x1="691.6" y1="657.7" x2="691.6" y2="838" stroke="rgba(255,255,255,0.09)" stroke-width="1"/>
<line x1="853.2" y1="657.8" x2="1470" y2="657.8" stroke="rgba(255,255,255,0.02)" stroke-width="1"/>
<line x1="853.2" y1="702.9" x2="1470" y2="702.9" stroke="rgba(255,255,255,0.02)" stroke-width="1"/>
<line x1="853.2" y1="748" x2="1470" y2="748" stroke="rgba(255,255,255,0.02)" stroke-width="1"/>
<line x1="853.2" y1="793" x2="1470" y2="793" stroke="rgba(255,255,255,0.02)" stroke-width="1"/>
<line x1="853.2" y1="838" x2="1470" y2="838" stroke="rgba(255,255,255,0.02)" stroke-width="1"/>
<line x1="882.5" y1="657.8" x2="882.5" y2="838" stroke="rgba(255,255,255,0.03)" stroke-width="1"/>
<line x1="985.7" y1="657.8" x2="985.7" y2="838" stroke="rgba(255,255,255,0.03)" stroke-width="1"/>
<line x1="1088.5" y1="657.8" x2="1088.5" y2="838" stroke="rgba(255,255,255,0.03)" stroke-width="1"/>
<line x1="1191.5" y1="657.8" x2="1191.5" y2="838" stroke="rgba(255,255,255,0.03)" stroke-width="1"/>
<line x1="1294.5" y1="657.8" x2="1294.5" y2="838" stroke="rgba(255,255,255,0.03)" stroke-width="1"/>
<line x1="1397.5" y1="657.8" x2="1397.5" y2="838" stroke="rgba(255,255,255,0.03)" stroke-width="1"/>
<rect x="113.4" y="565.5" width="16.5" height="5" rx="0.5" fill="#EAB839"/>
<rect x="235.3" y="565.5" width="16.5" height="5" rx="0.5" fill="#0A437C"/>
<rect x="339.0" y="565.5" width="16.5" height="5" rx="0.5" fill="#890F02"/>
<rect x="450.6" y="565.5" width="16.5" height="5" rx="0.5" fill="#EF843C"/>
<rect x="554.2" y="565.5" width="16.5" height="5" rx="0.5" fill="#6D1F62"/>
<rect x="663.8" y="565.5" width="16.5" height="5" rx="0.5" fill="#7EB26D"/>
<rect x="822.9" y="565.5" width="16.5" height="5" rx="0.5" fill="#ffffff"/>
<rect x="928.5" y="565.5" width="16.5" height="5" rx="0.5" fill="#EAB839"/>
<rect x="1034.3" y="565.5" width="16.5" height="5" rx="0.5" fill="#052b51"/>
<rect x="1203.0" y="565.5" width="16.5" height="5" rx="0.5" fill="#7EB26D"/>
<rect x="1304.0" y="565.5" width="16.5" height="5" rx="0.5" fill="#BF1B00"/>
<rect x="114.0" y="881.5" width="16.5" height="5" rx="0.5" fill="#7EB26D"/>
<rect x="235.4" y="881.5" width="16.5" height="5" rx="0.5" fill="#EAB839"/>
<rect x="335.8" y="881.5" width="16.5" height="5" rx="0.5" fill="#6ED0E0"/>
<rect x="416.3" y="881.5" width="16.5" height="5" rx="0.5" fill="#EF843C"/>
<rect x="543.3" y="881.5" width="16.5" height="5" rx="0.5" fill="#E24D42"/>
<rect x="650.8" y="881.5" width="16.5" height="5" rx="0.5" fill="#1F78C1"/>
<rect x="822.7" y="881.5" width="16.5" height="5" rx="0.5" fill="#7EB26D"/>
<rect x="920.0" y="881.5" width="16.5" height="5" rx="0.5" fill="#EAB839"/>
<rect x="963.4" y="881.5" width="16.5" height="5" rx="0.5" fill="#6ED0E0"/>
<rect x="1028.7" y="881.5" width="16.5" height="5" rx="0.5" fill="#EF843C"/>
<rect x="1127.4" y="881.5" width="16.5" height="5" rx="0.5" fill="#E24D42"/>
<rect x="1259.0" y="881.5" width="16.5" height="5" rx="0.5" fill="#1F78C1"/></svg><svg class="a" style="left:485px;top:299px" width="12" height="9" viewBox="0 0 12 9"><path d="M2 2 L6 6 L10 2" fill="none" stroke="#b8b9be" stroke-width="1.5"/></svg><svg class="a" style="left:96px;top:926px" width="9" height="12" viewBox="0 0 9 12"><path d="M2.5 2 L6.5 6 L2.5 10" fill="none" stroke="#c9cacf" stroke-width="1.6"/></svg><div class="a" style="left:121.61px;top:187.22px;font-size:21px;line-height:21px;color:#c9cacf;transform:scaleX(0.9898);transform-origin:0 0">General</div>
<div class="a" style="left:206.70px;top:187.22px;font-size:21px;line-height:21px;color:#d0d1d6;transform:scaleX(0.9797);transform-origin:0 0">/ Node Exporter Full</div>
<div class="a" style="left:109.83px;top:244.27px;font-size:20px;line-height:20px;color:#cfd0d5;-webkit-text-stroke:0.7px #cfd0d5;transform:scaleX(0.9707);transform-origin:0 0">Basic CPU / Mem / Net / Disk</div>
<div class="a" style="left:898.50px;top:188.16px;font-size:18px;line-height:18px;color:#b8b9be;-webkit-text-stroke:0.3px #b8b9be;transform:scaleX(0.9449);transform-origin:0 0">2022-06-18 16:58:31 to 2022-06-18 17:28:31</div>
<div class="a" style="left:403.00px;top:293.21px;font-size:17px;line-height:17px;color:#d8d9dd;-webkit-text-stroke:0.7px #d8d9dd;transform:scaleX(0.9252);transform-origin:0 0">CPU Basic</div>
<div class="a" style="left:1096.01px;top:293.21px;font-size:17px;line-height:17px;color:#d8d9dd;-webkit-text-stroke:0.7px #d8d9dd;transform:scaleX(0.9889);transform-origin:0 0">Memory Basic</div>
<div class="a" style="left:360.90px;top:609.21px;font-size:17px;line-height:17px;color:#d8d9dd;-webkit-text-stroke:0.7px #d8d9dd">Network Traffic Basic</div>
<div class="a" style="left:1064.44px;top:609.41px;font-size:17px;line-height:17px;color:#d8d9dd;-webkit-text-stroke:0.7px #d8d9dd;transform:scaleX(0.9558);transform-origin:0 0">Disk Space Used Basic</div>
<div class="a" style="left:102.71px;top:334.47px;font-size:13.5px;line-height:13.5px;color:#c7c8cc;transform:scaleX(0.9873);transform-origin:0 0">100%</div>
<div class="a" style="left:112.00px;top:379.47px;font-size:13.5px;line-height:13.5px;color:#c7c8cc;transform:scaleX(0.9180);transform-origin:0 0">75%</div>
<div class="a" style="left:112.00px;top:424.47px;font-size:13.5px;line-height:13.5px;color:#c7c8cc;transform:scaleX(0.9180);transform-origin:0 0">50%</div>
<div class="a" style="left:112.00px;top:469.47px;font-size:13.5px;line-height:13.5px;color:#c7c8cc;transform:scaleX(0.9180);transform-origin:0 0">25%</div>
<div class="a" style="left:118.80px;top:514.47px;font-size:13.5px;line-height:13.5px;color:#c7c8cc;transform:scaleX(0.9227);transform-origin:0 0">0%</div>
<div class="a" style="left:156.65px;top:533.07px;font-size:13.5px;line-height:13.5px;color:#c7c8cc;transform:scaleX(1.0535);transform-origin:0 0">17:00</div>
<div class="a" style="left:258.25px;top:533.07px;font-size:13.5px;line-height:13.5px;color:#c7c8cc;transform:scaleX(1.0535);transform-origin:0 0">17:05</div>
<div class="a" style="left:361.85px;top:533.07px;font-size:13.5px;line-height:13.5px;color:#c7c8cc;transform:scaleX(1.0535);transform-origin:0 0">17:10</div>
<div class="a" style="left:464.75px;top:533.07px;font-size:13.5px;line-height:13.5px;color:#c7c8cc;transform:scaleX(1.0535);transform-origin:0 0">17:15</div>
<div class="a" style="left:567.65px;top:533.07px;font-size:13.5px;line-height:13.5px;color:#c7c8cc;transform:scaleX(1.0535);transform-origin:0 0">17:20</div>
<div class="a" style="left:670.55px;top:533.07px;font-size:13.5px;line-height:13.5px;color:#c7c8cc;transform:scaleX(1.0535);transform-origin:0 0">17:25</div>
<div class="a" style="left:811.70px;top:333.97px;font-size:13.5px;line-height:13.5px;color:#c7c8cc;transform:scaleX(1.0262);transform-origin:0 0">37.3 GiB</div>
<div class="a" style="left:811.70px;top:378.87px;font-size:13.5px;line-height:13.5px;color:#c7c8cc;transform:scaleX(1.0262);transform-origin:0 0">27.9 GiB</div>
<div class="a" style="left:810.65px;top:424.17px;font-size:13.5px;line-height:13.5px;color:#c7c8cc;transform:scaleX(1.0461);transform-origin:0 0">18.6 GiB</div>
<div class="a" style="left:811.70px;top:469.17px;font-size:13.5px;line-height:13.5px;color:#c7c8cc;transform:scaleX(1.0262);transform-origin:0 0">9.31 GiB</div>
<div class="a" style="left:845.00px;top:514.17px;font-size:13.5px;line-height:13.5px;color:#c7c8cc;transform:scaleX(1.0168);transform-origin:0 0">0 B</div>
<div class="a" style="left:883.35px;top:533.07px;font-size:13.5px;line-height:13.5px;color:#c7c8cc;transform:scaleX(1.0535);transform-origin:0 0">17:00</div>
<div class="a" style="left:982.95px;top:533.07px;font-size:13.5px;line-height:13.5px;color:#c7c8cc;transform:scaleX(1.0535);transform-origin:0 0">17:05</div>
<div class="a" style="left:1082.45px;top:533.07px;font-size:13.5px;line-height:13.5px;color:#c7c8cc;transform:scaleX(1.0535);transform-origin:0 0">17:10</div>
<div class="a" style="left:1182.55px;top:533.07px;font-size:13.5px;line-height:13.5px;color:#c7c8cc;transform:scaleX(1.0535);transform-origin:0 0">17:15</div>
<div class="a" style="left:1282.15px;top:533.07px;font-size:13.5px;line-height:13.5px;color:#c7c8cc;transform:scaleX(1.0535);transform-origin:0 0">17:20</div>
<div class="a" style="left:1382.15px;top:533.07px;font-size:13.5px;line-height:13.5px;color:#c7c8cc;transform:scaleX(1.0535);transform-origin:0 0">17:25</div>
<div class="a" style="left:115.50px;top:650.47px;font-size:13.5px;line-height:13.5px;color:#c7c8cc;transform:scaleX(1.0793);transform-origin:0 0">50 Mb/s</div>
<div class="a" style="left:134.50px;top:710.67px;font-size:13.5px;line-height:13.5px;color:#c7c8cc;transform:scaleX(1.1214);transform-origin:0 0">0 b/s</div>
<div class="a" style="left:110.80px;top:771.17px;font-size:13.5px;line-height:13.5px;color:#c7c8cc;transform:scaleX(1.0764);transform-origin:0 0">-50 Mb/s</div>
<div class="a" style="left:102.70px;top:830.77px;font-size:13.5px;line-height:13.5px;color:#c7c8cc;transform:scaleX(1.0767);transform-origin:0 0">-100 Mb/s</div>
<div class="a" style="left:184.15px;top:848.57px;font-size:13.5px;line-height:13.5px;color:#c7c8cc;transform:scaleX(1.0535);transform-origin:0 0">17:00</div>
<div class="a" style="left:282.65px;top:848.57px;font-size:13.5px;line-height:13.5px;color:#c7c8cc;transform:scaleX(1.0535);transform-origin:0 0">17:05</div>
<div class="a" style="left:380.65px;top:848.57px;font-size:13.5px;line-height:13.5px;color:#c7c8cc;transform:scaleX(1.0535);transform-origin:0 0">17:10</div>
<div class="a" style="left:478.25px;top:848.57px;font-size:13.5px;line-height:13.5px;color:#c7c8cc;transform:scaleX(1.0535);transform-origin:0 0">17:15</div>
<div class="a" style="left:576.35px;top:848.57px;font-size:13.5px;line-height:13.5px;color:#c7c8cc;transform:scaleX(1.0535);transform-origin:0 0">17:20</div>
<div class="a" style="left:674.45px;top:848.57px;font-size:13.5px;line-height:13.5px;color:#c7c8cc;transform:scaleX(1.0535);transform-origin:0 0">17:25</div>
<div class="a" style="left:812.02px;top:650.87px;font-size:13.5px;line-height:13.5px;color:#c7c8cc;transform:scaleX(0.9844);transform-origin:0 0">100%</div>
<div class="a" style="left:821.20px;top:696.17px;font-size:13.5px;line-height:13.5px;color:#c7c8cc;transform:scaleX(0.9180);transform-origin:0 0">75%</div>
<div class="a" style="left:821.20px;top:741.17px;font-size:13.5px;line-height:13.5px;color:#c7c8cc;transform:scaleX(0.9180);transform-origin:0 0">50%</div>
<div class="a" style="left:821.20px;top:786.17px;font-size:13.5px;line-height:13.5px;color:#c7c8cc;transform:scaleX(0.9180);transform-origin:0 0">25%</div>
<div class="a" style="left:827.40px;top:831.17px;font-size:13.5px;line-height:13.5px;color:#c7c8cc;transform:scaleX(0.9535);transform-origin:0 0">0%</div>
<div class="a" style="left:864.55px;top:848.57px;font-size:13.5px;line-height:13.5px;color:#c7c8cc;transform:scaleX(1.0535);transform-origin:0 0">17:00</div>
<div class="a" style="left:966.65px;top:848.57px;font-size:13.5px;line-height:13.5px;color:#c7c8cc;transform:scaleX(1.0535);transform-origin:0 0">17:05</div>
<div class="a" style="left:1070.55px;top:848.57px;font-size:13.5px;line-height:13.5px;color:#c7c8cc;transform:scaleX(1.0535);transform-origin:0 0">17:10</div>
<div class="a" style="left:1173.15px;top:848.57px;font-size:13.5px;line-height:13.5px;color:#c7c8cc;transform:scaleX(1.0535);transform-origin:0 0">17:15</div>
<div class="a" style="left:1275.65px;top:848.57px;font-size:13.5px;line-height:13.5px;color:#c7c8cc;transform:scaleX(1.0535);transform-origin:0 0">17:20</div>
<div class="a" style="left:1379.65px;top:848.57px;font-size:13.5px;line-height:13.5px;color:#c7c8cc;transform:scaleX(1.0535);transform-origin:0 0">17:25</div>
<div class="a" style="left:139.34px;top:560.40px;font-size:15px;line-height:15px;color:#cfd0d4;-webkit-text-stroke:0.3px #cfd0d4;transform:scaleX(0.9613);transform-origin:0 0">Busy System</div>
<div class="a" style="left:260.55px;top:560.40px;font-size:15px;line-height:15px;color:#cfd0d4;-webkit-text-stroke:0.3px #cfd0d4;transform:scaleX(0.9459);transform-origin:0 0">Busy User</div>
<div class="a" style="left:364.03px;top:560.40px;font-size:15px;line-height:15px;color:#cfd0d4;-webkit-text-stroke:0.3px #cfd0d4;transform:scaleX(0.9669);transform-origin:0 0">Busy Iowait</div>
<div class="a" style="left:476.78px;top:560.40px;font-size:15px;line-height:15px;color:#cfd0d4;-webkit-text-stroke:0.3px #cfd0d4;transform:scaleX(0.9205);transform-origin:0 0">Busy IRQs</div>
<div class="a" style="left:580.56px;top:560.40px;font-size:15px;line-height:15px;color:#cfd0d4;-webkit-text-stroke:0.3px #cfd0d4;transform:scaleX(0.9388);transform-origin:0 0">Busy Other</div>
<div class="a" style="left:688.99px;top:560.40px;font-size:15px;line-height:15px;color:#cfd0d4;-webkit-text-stroke:0.3px #cfd0d4;transform:scaleX(1.0069);transform-origin:0 0">Idle</div>
<div class="a" style="left:848.33px;top:560.40px;font-size:15px;line-height:15px;color:#cfd0d4;-webkit-text-stroke:0.3px #cfd0d4;transform:scaleX(0.9727);transform-origin:0 0">RAM Total</div>
<div class="a" style="left:953.47px;top:560.40px;font-size:15px;line-height:15px;color:#cfd0d4;-webkit-text-stroke:0.3px #cfd0d4;transform:scaleX(0.9343);transform-origin:0 0">RAM Used</div>
<div class="a" style="left:1059.05px;top:560.40px;font-size:15px;line-height:15px;color:#cfd0d4;-webkit-text-stroke:0.3px #cfd0d4;transform:scaleX(0.9531);transform-origin:0 0">RAM Cache + Buffer</div>
<div class="a" style="left:1228.57px;top:560.40px;font-size:15px;line-height:15px;color:#cfd0d4;-webkit-text-stroke:0.3px #cfd0d4;transform:scaleX(0.9254);transform-origin:0 0">RAM Free</div>
<div class="a" style="left:1330.20px;top:560.40px;font-size:15px;line-height:15px;color:#cfd0d4;-webkit-text-stroke:0.3px #cfd0d4;transform:scaleX(0.9132);transform-origin:0 0">SWAP Used</div>
<div class="a" style="left:139.63px;top:876.30px;font-size:15px;line-height:15px;color:#cfd0d4;-webkit-text-stroke:0.3px #cfd0d4;transform:scaleX(0.9748);transform-origin:0 0">recv docker0</div>
<div class="a" style="left:260.42px;top:876.30px;font-size:15px;line-height:15px;color:#cfd0d4;-webkit-text-stroke:0.3px #cfd0d4;transform:scaleX(0.9829);transform-origin:0 0">recv ens5</div>
<div class="a" style="left:360.91px;top:876.30px;font-size:15px;line-height:15px;color:#cfd0d4;-webkit-text-stroke:0.3px #cfd0d4;transform:scaleX(0.9945);transform-origin:0 0">recv lo</div>
<div class="a" style="left:442.40px;top:876.30px;font-size:15px;line-height:15px;color:#cfd0d4;-webkit-text-stroke:0.3px #cfd0d4;transform:scaleX(0.9830);transform-origin:0 0">trans docker0</div>
<div class="a" style="left:569.30px;top:876.30px;font-size:15px;line-height:15px;color:#cfd0d4;-webkit-text-stroke:0.3px #cfd0d4;transform:scaleX(0.9857);transform-origin:0 0">trans ens5</div>
<div class="a" style="left:676.00px;top:876.30px;font-size:15px;line-height:15px;color:#cfd0d4;-webkit-text-stroke:0.3px #cfd0d4;transform:scaleX(0.9868);transform-origin:0 0">trans lo</div>
<div class="a" style="left:849.00px;top:876.30px;font-size:15px;line-height:15px;color:#cfd0d4;-webkit-text-stroke:0.3px #cfd0d4;transform:scaleX(1.0747);transform-origin:0 0">/boot/efi</div>
<div class="a" style="left:945.20px;top:876.30px;font-size:15px;line-height:15px;color:#cfd0d4;-webkit-text-stroke:0.3px #cfd0d4;transform:scaleX(0.9600);transform-origin:0 0">/</div>
<div class="a" style="left:989.00px;top:876.30px;font-size:15px;line-height:15px;color:#cfd0d4;-webkit-text-stroke:0.3px #cfd0d4;transform:scaleX(1.0508);transform-origin:0 0">/run</div>
<div class="a" style="left:1054.00px;top:876.30px;font-size:15px;line-height:15px;color:#cfd0d4;-webkit-text-stroke:0.3px #cfd0d4;transform:scaleX(1.0422);transform-origin:0 0">/run/lock</div>
<div class="a" style="left:1152.70px;top:876.30px;font-size:15px;line-height:15px;color:#cfd0d4;-webkit-text-stroke:0.3px #cfd0d4;transform:scaleX(1.0288);transform-origin:0 0">/run/snapd/ns</div>
<div class="a" style="left:1285.30px;top:876.30px;font-size:15px;line-height:15px;color:#cfd0d4;-webkit-text-stroke:0.3px #cfd0d4;transform:scaleX(1.0344);transform-origin:0 0">/run/user/1000</div>
<div class="a" style="left:110.50px;top:922.19px;font-size:19.5px;line-height:19.5px;color:#d0d1d6;-webkit-text-stroke:0.7px #d0d1d6">CPU / Memory / Net / Disk</div>
<div class="a" style="left:358.70px;top:926.00px;font-size:15px;line-height:15px;color:#8e8f94;font-style:italic;transform:scaleX(0.9579);transform-origin:0 0">(7 panels)</div>
<div class="a" style="left:333.80px;top:365.12px;font-size:14.5px;line-height:14.5px;color:#d9482f;-webkit-text-stroke:0.7px #d9482f;transform:scaleX(1.0118);transform-origin:0 0">QUIC</div>
<div class="a" style="left:476.60px;top:365.12px;font-size:14.5px;line-height:14.5px;color:#d9482f;-webkit-text-stroke:0.7px #d9482f;transform:scaleX(0.9876);transform-origin:0 0">TLS</div>
</body></html>
